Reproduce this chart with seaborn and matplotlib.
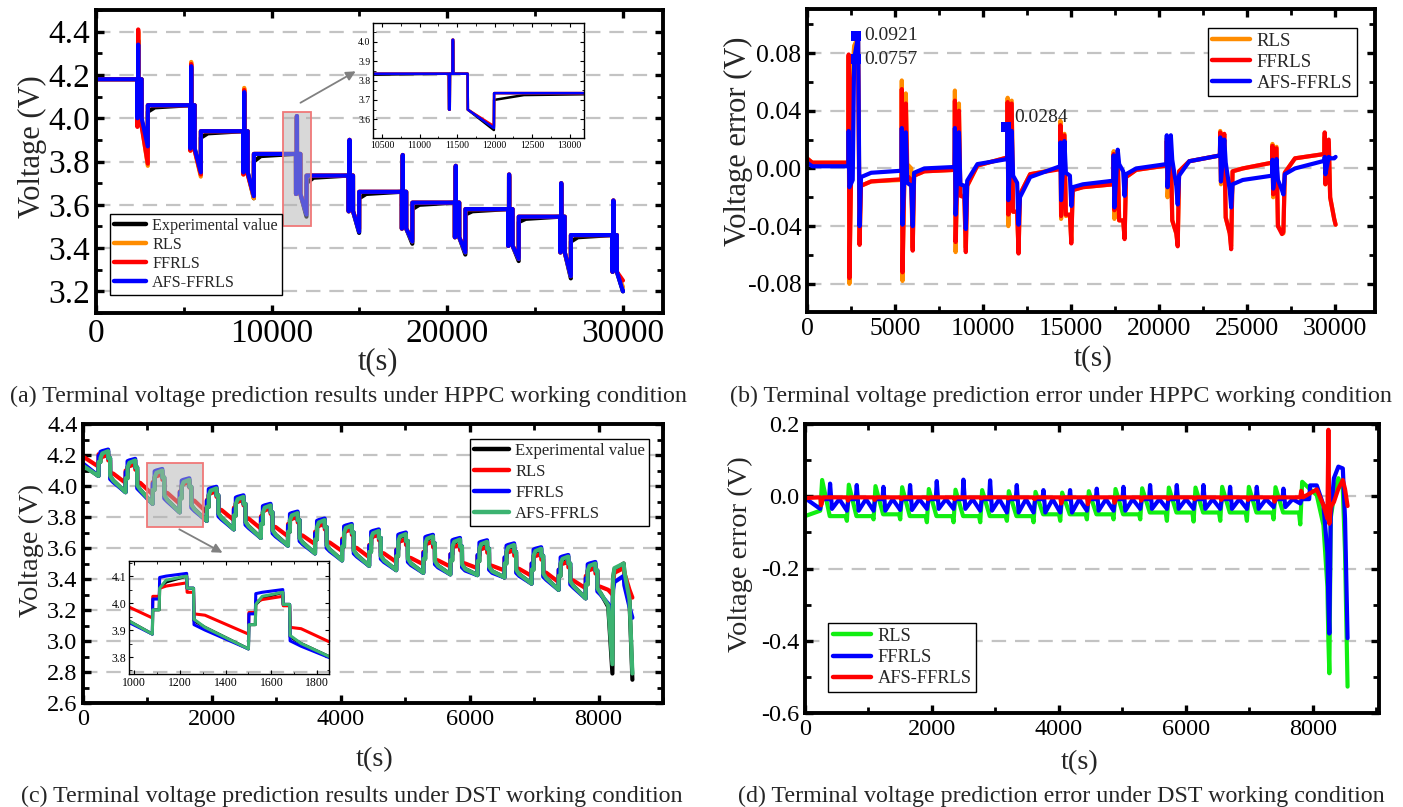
"""HPPC / DST terminal voltage prediction results and errors (2x2 panels)"""

import matplotlib
matplotlib.use("Agg")
import matplotlib.pyplot as plt
from matplotlib.patches import Rectangle
from matplotlib.ticker import MultipleLocator, FuncFormatter
import seaborn as sns

# === HPPC data (panels a and b) ===
hppc_t0 = [2350, 5370, 8390, 11390, 14390, 17420, 20440, 23480, 26450, 29420]
hppc_rest = [4.18, 4.06, 3.94, 3.835, 3.735, 3.66, 3.61, 3.58, 3.545, 3.46]

exp_spike = [4.36, 4.23, 4.11, 4.00, 3.89, 3.82, 3.77, 3.73, 3.69, 3.61]
exp_dip = [3.99, 3.86, 3.75, 3.65, 3.57, 3.49, 3.45, 3.41, 3.38, 3.29]
exp_ramp = [3.84, 3.74, 3.63, 3.545, 3.47, 3.42, 3.37, 3.34, 3.26, 3.20]
exp_post = [4.03, 3.91, 3.80, 3.70, 3.63, 3.58, 3.555, 3.52, 3.43]
exp_knee = [4.05, 3.93, 3.825, 3.725, 3.65, 3.60, 3.57, 3.535, 3.45]

rls_spike = [4.40, 4.26, 4.14, 4.01, 3.90, 3.83, 3.78, 3.74, 3.70, 3.62]
rls_dip = [3.97, 3.85, 3.74, 3.65, 3.57, 3.49, 3.45, 3.41, 3.38, 3.29]
rls_ramp = [3.78, 3.73, 3.63, 3.56, 3.48, 3.43, 3.38, 3.35, 3.27, 3.22]

ffrls_spike = [4.41, 4.25, 4.13, 4.01, 3.90, 3.83, 3.78, 3.74, 3.70, 3.62]
ffrls_dip = [3.96, 3.85, 3.74, 3.65, 3.57, 3.49, 3.45, 3.41, 3.38, 3.29]
ffrls_ramp = [3.79, 3.74, 3.64, 3.565, 3.49, 3.44, 3.39, 3.36, 3.28, 3.25]

afs_spike = [4.34, 4.24, 4.12, 4.01, 3.90, 3.83, 3.78, 3.74, 3.70, 3.62]
afs_dip = [4.00, 3.86, 3.75, 3.65, 3.57, 3.49, 3.45, 3.41, 3.38, 3.29]
afs_ramp = [3.87, 3.75, 3.64, 3.555, 3.475, 3.43, 3.38, 3.35, 3.27, 3.20]

# error rows per HPPC cycle: pre, up, down, up2, mid, pre-dip, dip, recovery, knee
err_offsets = [0, 20, 60, 250, 330, 560, 640, 720, 1300]
err_rls_start = [0.007, 0.004]
err_rls = [
    [0.004, 0.078, -0.080, 0.070, 0.085, 0.091, -0.050, -0.012, -0.009],
    [-0.008, 0.061, -0.078, 0.052, 0.003, 0.000, -0.055, -0.005, -0.002],
    [-0.001, 0.054, -0.058, 0.045, -0.018, -0.020, -0.055, -0.012, 0.002],
    [0.0076, 0.049, -0.040, 0.047, -0.030, -0.030, -0.057, -0.018, -0.004],
    [0.000, 0.033, -0.035, 0.024, -0.033, -0.032, -0.050, -0.015, -0.013],
    [-0.011, 0.012, -0.035, 0.008, -0.036, -0.036, -0.048, -0.006, -0.001],
    [0.002, 0.021, -0.020, 0.016, -0.036, -0.045, -0.052, -0.002, 0.005],
    [0.009, 0.026, -0.011, 0.022, -0.034, -0.045, -0.054, -0.002, 0.000],
    [0.004, 0.017, -0.020, 0.015, -0.040, -0.044, -0.045, -0.003, 0.007],
    [0.010, 0.022, -0.011, 0.018, -0.020, -0.035, -0.039],
]
err_ffrls_start = [0.007, 0.004]
err_ffrls = [
    [0.004, 0.079, -0.076, 0.060, 0.070, 0.075, -0.053, -0.012, -0.009],
    [-0.0075, 0.055, -0.072, 0.045, -0.005, -0.008, -0.057, -0.005, -0.002],
    [-0.001, 0.047, -0.051, 0.040, -0.019, -0.020, -0.058, -0.012, 0.002],
    [0.0076, 0.046, -0.032, 0.045, -0.030, -0.030, -0.059, -0.018, -0.004],
    [-0.0005, 0.030, -0.033, 0.023, -0.032, -0.032, -0.052, -0.015, -0.013],
    [-0.011, 0.010, -0.029, 0.008, -0.036, -0.036, -0.049, -0.006, -0.001],
    [0.002, 0.019, -0.013, 0.016, -0.036, -0.045, -0.054, -0.002, 0.005],
    [0.009, 0.025, -0.009, 0.024, -0.034, -0.045, -0.056, -0.002, 0.000],
    [0.004, 0.0157, -0.018, 0.014, -0.040, -0.0455, -0.044, -0.003, 0.007],
    [0.010, 0.025, -0.011, 0.020, -0.020, -0.035, -0.039],
]
err_afs_start = [0.004, 0.0015]
err_afs = [
    [0.0015, 0.026, -0.013, -0.008, 0.0757, 0.0921, -0.040, -0.006, -0.003],
    [-0.0016, 0.028, -0.039, 0.025, -0.010, -0.012, -0.040, -0.003, 0.000],
    [0.001, 0.028, -0.032, 0.025, -0.011, -0.012, -0.042, -0.0085, 0.003],
    [0.0065, 0.0284, -0.022, 0.026, -0.005, -0.010, -0.039, -0.020, -0.006],
    [0.0015, 0.018, -0.022, 0.019, -0.003, -0.005, -0.026, -0.013, -0.011],
    [-0.0085, 0.009, -0.027, 0.013, 0.003, -0.002, -0.019, -0.004, 0.000],
    [0.003, 0.023, -0.013, 0.023, 0.006, -0.012, -0.025, -0.005, 0.005],
    [0.009, 0.0215, -0.009, 0.020, 0.004, -0.015, -0.027, -0.011, -0.008],
    [-0.005, 0.006, -0.014, 0.0065, -0.008, -0.015, -0.018, -0.004, 0.000],
    [0.0053, 0.008, -0.004, 0.008, 0.007, 0.007, 0.008],
]
mark_t = [2800, 2800, 11320]
mark_v = [0.0921, 0.0757, 0.0284]
mark_text = ["0.0921", "0.0757", "0.0284"]
mark_text_t = [3250, 3250, 11800]
mark_text_v = [0.0921, 0.0757, 0.0352]

# === DST data (panels c and d) ===
dst_t0 = [240, 660, 1080, 1500, 1920, 2340, 2760, 3180, 3600, 4020,
          4440, 4860, 5280, 5700, 6120, 6540, 6960, 7380, 7800]
exp_valley = [4.065, 3.96, 3.885, 3.83, 3.775, 3.72, 3.665, 3.615, 3.565, 3.52,
              3.485, 3.457, 3.44, 3.43, 3.425, 3.41, 3.37, 3.33, 3.275]
exp_peak = [4.225, 4.165, 4.10, 4.04, 3.985, 3.93, 3.875, 3.825, 3.78, 3.745,
            3.71, 3.69, 3.675, 3.655, 3.64, 3.62, 3.595, 3.545, 3.50]
rls_valley = [4.125, 4.02, 3.945, 3.885, 3.83, 3.78, 3.725, 3.675, 3.625, 3.58,
              3.54, 3.51, 3.495, 3.48, 3.47, 3.455, 3.42, 3.38, 3.34]
rls_peak = [4.20, 4.14, 4.075, 4.025, 3.965, 3.91, 3.855, 3.80, 3.755, 3.72,
            3.685, 3.655, 3.64, 3.62, 3.605, 3.585, 3.56, 3.51, 3.47]
ffrls_peak = [4.235, 4.175, 4.11, 4.05, 3.995, 3.94, 3.885, 3.835, 3.79, 3.755,
              3.72, 3.70, 3.685, 3.665, 3.65, 3.63, 3.605, 3.555, 3.51]
# (jump above valley, rise / knee / step / drop / sag below peak)
shape_exp = [0.09, 0.045, 0.022, 0.045, 0.165, 0.19]
shape_afs = [0.09, 0.045, 0.015, 0.045, 0.16, 0.19]
shape_ffrls = [0.13, 0.015, 0.01, 0.055, 0.19, 0.21]
shape_rls = [0.08, 0.02, 0.012, 0.035, 0.115, 0.12]
dst_start = {"exp": 4.135, "rls": 4.19, "ffrls": 4.145, "afs": 4.13}
dst_tail_t = [8150, 8215, 8225, 8245, 8390, 8400, 8480, 8525]
tail_exp = [3.22, 2.79, 3.40, 3.46, 3.50, 3.44, 3.26, 2.75]
tail_afs = [3.23, 2.85, 3.40, 3.47, 3.50, 3.45, 3.27, 2.79]
tail_ffrls = [3.24, 3.17, 3.33, 3.38, 3.42, 3.36, 3.22, 3.15]
tail_rls = [3.33, 3.30, 3.38, 3.44, 3.47, 3.44, 3.33, 3.28]

d_rls_bot = [-0.04, -0.068, -0.064, -0.064, -0.072, -0.072, -0.072, -0.068, -0.072, -0.068,
             -0.064, -0.064, -0.064, -0.068, -0.07, -0.068, -0.068, -0.064, -0.078]
d_rls_top = [0.045, 0.032, 0.028, 0.025, 0.02, 0.018, 0.017, 0.014, 0.012, 0.01,
             0.014, 0.02, 0.022, 0.024, 0.024, 0.026, 0.026, 0.025, 0.04]
d_rls_low = [-0.055, -0.055, -0.05, -0.055, -0.055, -0.055, -0.055, -0.055, -0.05, -0.05,
             -0.05, -0.05, -0.045, -0.045, -0.045, -0.045, -0.045, -0.045, 0.02]
d_ff_top = [0.035, 0.031, 0.026, 0.031, 0.042, 0.046, 0.044, 0.031, 0.017, 0.017,
            0.021, 0.026, 0.031, 0.031, 0.031, 0.026, 0.026, 0.021, 0.03]
d_ff_dip = [-0.035, -0.04, -0.04, -0.038, -0.035, -0.035, -0.04, -0.045, -0.045, -0.045,
            -0.04, -0.04, -0.035, -0.035, -0.035, -0.035, -0.035, -0.03, -0.02]
d_ff_base = -0.008
d_afs_dip = [-0.025, -0.012, -0.01, -0.008, -0.008, -0.008, -0.006, -0.006, -0.008, -0.02,
             -0.022, -0.018, -0.012, -0.008, -0.008, -0.01, -0.01, -0.015, 0.015]
d_afs_base = -0.003
d_tail_t = [8060, 8165, 8227, 8243, 8258, 8280, 8330, 8400, 8470, 8505, 8545]
d_tail_rls = [0.003, -0.08, -0.25, -0.40, -0.49, -0.06, 0.0, 0.05, 0.02, -0.155, -0.527]
d_tail_ffrls = [0.03, -0.025, -0.155, -0.30, -0.38, -0.053, 0.05, 0.082, 0.077, -0.062, -0.393]
d_tail_afs = [0.019, -0.025, -0.062, 0.184, -0.076, -0.03, -0.016, 0.021, 0.045, 0.02, -0.027]


# === curve builders ===
def hppc_voltage(dip, spike, ramp, post, knee):
    t, v = [0], [hppc_rest[0]]
    for k, t0 in enumerate(hppc_t0):
        r = hppc_rest[k]
        t += [t0, t0 + 3, t0 + 12, t0 + 15, t0 + 48, t0 + 50, t0 + 58, t0 + 60,
              t0 + 250, t0 + 253, t0 + 600]
        v += [r, dip[k], dip[k], r, r, spike[k], spike[k], r, r, dip[k], ramp[k]]
        if k < len(post):
            t += [t0 + 603, t0 + 1000]
            v += [post[k], knee[k]]
    return t, v


def hppc_error(start, rows):
    t, v = [0, 300], list(start)
    for t0, row in zip(hppc_t0, rows):
        t += [t0 + o for o in err_offsets[:len(row)]]
        v += list(row)
    return t, v


dst_offsets = [0, 2, 30, 32, 60, 150, 152, 180, 182, 230]


def dst_voltage(start, valley, peak, shape, tail):
    jump, rise, knee, step, drop, sag = shape
    t, v = [0], [start]
    for t0, lo, hi in zip(dst_t0, valley, peak):
        t += [t0 + o for o in dst_offsets]
        v += [lo, lo + jump, lo + jump, hi - rise, hi - knee, hi,
              hi - step, hi - step, hi - drop, hi - sag]
    return t + dst_tail_t, v + tail


def rls_error():
    t, v = [0], [-0.055]
    for k, t0 in enumerate(dst_t0):
        t += [t0, t0 + 30, t0 + 150]
        v += [d_rls_bot[k], d_rls_top[k], d_rls_low[k]]
        if k < len(dst_t0) - 1:
            t.append(t0 + 400)
            v.append(d_rls_low[k])
    return t + d_tail_t, v + d_tail_rls


def ffrls_error():
    t, v = [0], [-0.005]
    for k, t0 in enumerate(dst_t0):
        offs = [0, 25, 140, 155, 185, 300]
        vals = [d_ff_dip[k], d_ff_base, d_ff_base, d_ff_top[k], d_ff_dip[k], d_ff_base]
        if k == len(dst_t0) - 1:
            offs, vals = offs[:4], vals[:4]
        t += [t0 + o for o in offs]
        v += vals
    return t + d_tail_t, v + d_tail_ffrls


def afs_error():
    t, v = [0], [-0.005]
    for k, t0 in enumerate(dst_t0):
        t += [t0, t0 + 15, t0 + 45]
        v += [d_afs_base, d_afs_dip[k], d_afs_base]
    return t + d_tail_t, v + d_tail_afs


# === styling ===
sns.set_theme(style="ticks")
plt.rcParams["font.family"] = ["Liberation Serif", "DejaVu Serif"]
plt.rcParams["axes.unicode_minus"] = False

ORANGE, RED, BLUE = "#ff8c00", "#ff0000", "#0000ff"
SEA, LIME = "#3cb371", "#11ee11"
W, H = 1403, 807

fig = plt.figure(figsize=(W / 100, H / 100), dpi=100)


def px_axes(l, t, r, b):
    return fig.add_axes([l / W, 1 - b / H, (r - l) / W, (b - t) / H])


def fmt(dec):
    return FuncFormatter(lambda x, p: f"{round(x, 6) + 0.0:.{dec}f}")


def style(ax, xmaj, xmin, ymaj, ymin, ydec, lsize, main=True):
    ax.xaxis.set_major_locator(MultipleLocator(xmaj))
    ax.xaxis.set_minor_locator(MultipleLocator(xmin))
    ax.yaxis.set_major_locator(MultipleLocator(ymaj))
    ax.yaxis.set_minor_locator(MultipleLocator(ymin))
    ax.xaxis.set_major_formatter(fmt(0))
    ax.yaxis.set_major_formatter(fmt(ydec))
    ax.tick_params(which="both", direction="in", top=True, right=True,
                   labelsize=lsize, pad=4 if main else 2, colors="black")
    if main:
        ax.tick_params(which="major", length=6, width=2.4)
        ax.tick_params(which="minor", length=4, width=2.0)
        lw = 2.8
    else:
        ax.tick_params(which="major", length=3, width=0.8)
        ax.tick_params(which="minor", length=1.8, width=0.6)
        lw = 1.0
    for s in ax.spines.values():
        s.set_linewidth(lw)
        s.set_color("black")
    ax.set_xlabel("")
    ax.set_ylabel("")


def grid(ax):
    ax.yaxis.grid(True, which="major", color="#c3c3c3", lw=1.6, linestyle=(0, (6.5, 4)))
    ax.set_axisbelow(True)


def line(ax, t, v, color, lw, label=None):
    sns.lineplot(x=t, y=v, color=color, lw=lw, label=label, estimator=None,
                 sort=False, ax=ax, legend=False)


def legend(ax, loc, anchor, size, spacing, hlen=2.1):
    h, l = ax.get_legend_handles_labels()
    leg = ax.legend(h, l, loc=loc, bbox_to_anchor=anchor, fontsize=size,
                    frameon=True, fancybox=False, framealpha=1, edgecolor="black",
                    handlelength=hlen, handletextpad=0.35, labelspacing=spacing,
                    borderpad=0.25, borderaxespad=0)
    leg.get_frame().set_linewidth(1.0)
    for hl in leg.get_lines():
        hl.set_linewidth(3.2)


# === (a) HPPC voltage ===
a_exp = hppc_voltage(exp_dip, exp_spike, exp_ramp, exp_post, exp_knee)
a_rls = hppc_voltage(rls_dip, rls_spike, rls_ramp, hppc_rest[1:], hppc_rest[1:])
a_ffrls = hppc_voltage(ffrls_dip, ffrls_spike, ffrls_ramp, hppc_rest[1:], hppc_rest[1:])
a_afs = hppc_voltage(afs_dip, afs_spike, afs_ramp, hppc_rest[1:], hppc_rest[1:])
a_series = [(a_exp, "black", "Experimental value"), (a_rls, ORANGE, "RLS"),
            (a_ffrls, RED, "FFRLS"), (a_afs, BLUE, "AFS-FFRLS")]

ax = px_axes(96, 10, 663, 313)
for (t, v), c, lab in a_series:
    line(ax, t, v, c, 3.0, lab)
ax.set_xlim(0, 32300)
ax.set_ylim(3.1, 4.5)
style(ax, 10000, 5000, 0.2, 0.1, 1, 24)
grid(ax)
ax.set_ylabel("Voltage (V)", fontsize=22)
ax.set_xlabel("t(s)", fontsize=22)
ax.yaxis.set_label_coords(-0.086, 0.548)
ax.xaxis.set_label_coords(0.497, -0.112)
legend(ax, "lower left", (0.025, 0.06), 11.6, 0.18, 2.0)
ax.add_patch(Rectangle((10650, 3.50), 1600, 0.53, facecolor=(0.7, 0.7, 0.7, 0.5),
                       edgecolor="#f07878", lw=1.3, zorder=5))
ax.annotate("", xy=(14930, 4.223), xytext=(11510, 4.065),
            arrowprops=dict(arrowstyle="-|>", color="#808080", lw=1.3, mutation_scale=14))

ins = px_axes(373, 23, 584, 138)
ins.set_facecolor("none")
for (t, v), c, lab in a_series:
    line(ins, t, v, c, 1.8)
ins.set_xlim(10380, 13190)
ins.set_ylim(3.504, 4.096)
style(ins, 500, 250, 0.1, 0.05, 1, 7, main=False)

# === (b) HPPC error ===
ax = px_axes(807, 9, 1375, 312)
line(ax, *hppc_error(err_rls_start, err_rls), ORANGE, 3.0, "RLS")
line(ax, *hppc_error(err_ffrls_start, err_ffrls), RED, 3.0, "FFRLS")
line(ax, *hppc_error(err_afs_start, err_afs), BLUE, 3.0, "AFS-FFRLS")
sns.scatterplot(x=mark_t, y=mark_v, color=BLUE, marker="s", s=45, edgecolor=BLUE,
                linewidth=0, ax=ax, zorder=6)
for tt, vv, s in zip(mark_text_t, mark_text_v, mark_text):
    ax.text(tt, vv, s, fontsize=14, va="center", ha="left")
ax.set_xlim(0, 32300)
ax.set_ylim(-0.0995, 0.1105)
style(ax, 5000, 2500, 0.04, 0.02, 2, 18.5)
grid(ax)
ax.set_ylabel("Voltage error (V)", fontsize=22)
ax.set_xlabel("t(s)", fontsize=21)
ax.yaxis.set_label_coords(-0.095, 0.564)
ax.xaxis.set_label_coords(0.504, -0.109)
legend(ax, "upper right", (0.968, 0.937), 13.5, 0.2, 2.0)

# === (c) DST voltage ===
c_exp = dst_voltage(dst_start["exp"], exp_valley, exp_peak, shape_exp, tail_exp)
c_rls = dst_voltage(dst_start["rls"], rls_valley, rls_peak, shape_rls, tail_rls)
c_ffrls = dst_voltage(dst_start["ffrls"], exp_valley, ffrls_peak, shape_ffrls, tail_ffrls)
c_afs = dst_voltage(dst_start["afs"], exp_valley, exp_peak, shape_afs, tail_afs)
c_series = [(c_exp, "black", "Experimental value"), (c_rls, RED, "RLS"),
            (c_ffrls, BLUE, "FFRLS"), (c_afs, SEA, "AFS-FFRLS")]

ax = px_axes(83, 424, 663, 703)
for (t, v), c, lab in c_series:
    line(ax, t, v, c, 3.0, lab)
ax.set_xlim(0, 9000)
ax.set_ylim(2.6, 4.4)
style(ax, 2000, 1000, 0.2, 0.1, 1, 17.5)
grid(ax)
ax.set_ylabel("Voltage (V)", fontsize=20.5)
ax.set_xlabel("t(s)", fontsize=20.5)
ax.yaxis.set_label_coords(-0.067, 0.548)
ax.xaxis.set_label_coords(0.502, -0.158)
legend(ax, "upper right", (0.976, 0.946), 12, 0.3)
ax.add_patch(Rectangle((990, 3.735), 870, 0.413, facecolor=(0.7, 0.7, 0.7, 0.5),
                       edgecolor="#f07878", lw=1.3, zorder=5))
ax.annotate("", xy=(2202, 3.561), xytext=(1457, 3.729),
            arrowprops=dict(arrowstyle="-|>", color="#808080", lw=1.3, mutation_scale=14))

ins = px_axes(129, 561, 329, 674)
ins.set_facecolor("none")
for (t, v), c, lab in c_series:
    line(ins, t, v, c, 2.2)
ins.set_xlim(978, 1852)
ins.set_ylim(3.737, 4.156)
style(ins, 200, 100, 0.1, 0.05, 1, 8.5, main=False)

# === (d) DST error ===
ax = px_axes(805, 424, 1379, 713)
line(ax, *rls_error(), LIME, 3.0, "RLS")
line(ax, *ffrls_error(), BLUE, 3.0, "FFRLS")
line(ax, *afs_error(), RED, 3.0, "AFS-FFRLS")
ax.set_xlim(0, 9040)
ax.set_ylim(-0.6, 0.2)
style(ax, 2000, 1000, 0.2, 0.1, 1, 17.5)
grid(ax)
ax.set_ylabel("Voltage error (V)", fontsize=20.5)
ax.set_xlabel("t(s)", fontsize=20.5)
ax.yaxis.set_label_coords(-0.09, 0.55)
ax.xaxis.set_label_coords(0.479, -0.128)
legend(ax, "lower left", (0.04, 0.073), 13.2, 0.24, 2.1)

# === captions ===
captions = [
    (348, 396, "(a) Terminal voltage prediction results under HPPC working condition"),
    (1061, 396, "(b) Terminal voltage prediction error under HPPC working condition"),
    (352, 796, "(c) Terminal voltage prediction results under DST working condition"),
    (1061, 796, "(d) Terminal voltage prediction error under DST working condition"),
]
for x, y, s in captions:
    fig.text(x / W, 1 - y / H, s, fontsize=17.3, ha="center", va="center")

fig.savefig("out.png", dpi=100)
plt.close(fig)
